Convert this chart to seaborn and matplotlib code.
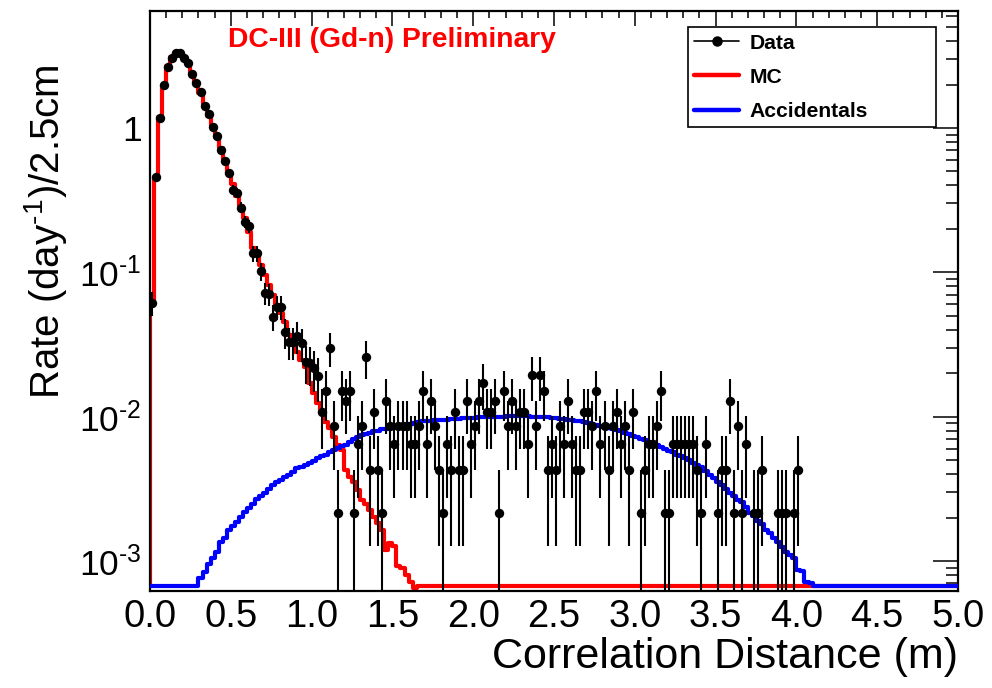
import numpy as np
import pandas as pd
import matplotlib
matplotlib.use("Agg")
import matplotlib.pyplot as plt
import seaborn as sns
from matplotlib.ticker import FixedLocator, MultipleLocator, NullFormatter, FormatStrFormatter
from matplotlib.lines import Line2D

# ---------------- data ----------------
n_bins = 200
x_lo, x_hi = 0.0, 5.0
rate_per_event = 0.00215          # day^-1 per selected event

# measured rate, bins 0..41 (high statistics region)
data_peak = [0.0613, 0.456, 1.173, 1.99, 2.65, 3.06, 3.31, 3.31, 3.06, 2.82,
             2.37, 2.05, 1.78, 1.42, 1.25, 1.02, 0.88, 0.705, 0.59, 0.488,
             0.372, 0.355, 0.281, 0.224, 0.21, 0.1355, 0.1355, 0.102, 0.0722, 0.0703,
             0.0492, 0.0578, 0.0578, 0.0384, 0.033, 0.033, 0.0361, 0.0322, 0.0239, 0.0234,
             0.0216, 0.0191]
# event counts, bins 42..160
data_tail_counts = [5, 7, 14, 4, 1, 7, 6, 7, 1, 3,
                    4, 12, 2, 5, 2, 1, 6, 4, 3, 4,
                    4, 4, 3, 3, 4, 7, 3, 6, 4, 2,
                    1, 3, 2, 5, 2, 2, 6, 3, 4, 6,
                    8, 5, 5, 6, 1, 7, 4, 6, 4, 5,
                    5, 3, 9, 4, 9, 7, 2, 3, 2, 4,
                    3, 6, 3, 2, 2, 5, 5, 4, 7, 3,
                    4, 2, 4, 5, 3, 4, 2, 5, 0, 1,
                    2, 3, 3, 4, 7, 1, 1, 3, 3, 3,
                    3, 3, 3, 2, 1, 3, 0, 0, 1, 2,
                    2, 6, 1, 4, 1, 3, 0, 1, 1, 2,
                    0, 0, 0, 1, 1, 1, 0, 1, 2]

# MC prediction, bins 0..65
mc_values = [0.06, 0.46, 1.2, 2.0, 2.7, 3.1, 3.3, 3.3, 3.1, 2.8,
             2.4, 2.05, 1.75, 1.45, 1.22, 1.03, 0.87, 0.73, 0.6, 0.49,
             0.41, 0.34, 0.29, 0.238, 0.19, 0.148, 0.132, 0.112, 0.096, 0.082,
             0.07, 0.059, 0.052, 0.045, 0.037, 0.0314, 0.028, 0.0247, 0.0221, 0.017,
             0.0146, 0.0124, 0.0106, 0.0092, 0.0083, 0.00726, 0.00637, 0.00588, 0.00428, 0.00384,
             0.00355, 0.0031, 0.00265, 0.0025, 0.00225, 0.00203, 0.00183, 0.00164, 0.00119, 0.00133,
             0.00126, 0.00092, 0.0009, 0.0008, 0.00072, 0.00065]

# accidental background (units of 1e-3 day^-1), bins 12..163
acc_first_bin = 12
accidentals_milli = [0.76, 0.84, 0.96, 1.05, 1.15, 1.36, 1.45, 1.65, 1.74, 1.85,
                     2.03, 2.2, 2.33, 2.5, 2.7, 2.8, 2.95, 3.15, 3.35, 3.5,
                     3.65, 3.8, 3.95, 4.15, 4.4, 4.5, 4.6, 4.75, 4.95, 5.15,
                     5.3, 5.45, 5.65, 5.85, 6.05, 6.25, 6.4, 6.65, 7.0, 7.25,
                     7.45, 7.6, 7.75, 7.9, 8.0, 8.15, 8.2, 8.35, 8.5, 8.6,
                     8.65, 8.8, 8.9, 9.05, 9.2, 9.3, 9.35, 9.4, 9.45, 9.5,
                     9.5, 9.55, 9.6, 9.65, 9.7, 9.75, 9.8, 9.85, 9.85, 9.9,
                     9.9, 9.95, 9.95, 10.0, 10.0, 10.0, 10.1, 10.1, 10.1, 10.1,
                     10.1, 10.1, 10.0, 10.0, 10.0, 9.95, 9.9, 9.85, 9.8, 9.7,
                     9.65, 9.55, 9.45, 9.4, 9.3, 9.2, 9.05, 8.95, 8.8, 8.65,
                     8.5, 8.4, 8.2, 8.05, 7.9, 7.75, 7.6, 7.4, 7.25, 7.05,
                     6.85, 6.65, 6.5, 6.35, 6.15, 6.0, 5.8, 5.65, 5.45, 5.3,
                     5.15, 5.0, 4.8, 4.6, 4.45, 4.2, 3.95, 3.75, 3.5, 3.35,
                     3.15, 2.95, 2.8, 2.65, 2.55, 2.35, 2.15, 2.05, 1.9, 1.8,
                     1.65, 1.55, 1.45, 1.35, 1.25, 1.15, 1.1, 1.05, 0.87, 0.85,
                     0.72, 0.70]

y_lo, y_hi = 6.22e-4, 6.47
x_ticks = [0.0, 0.5, 1.0, 1.5, 2.0, 2.5, 3.0, 3.5, 4.0, 4.5, 5.0]
y_ticks = [1e-3, 1e-2, 1e-1, 1.0]
y_tick_labels = [r"$10^{\text{-}3}$", r"$10^{\text{-}2}$", r"$10^{\text{-}1}$", "1"]

# ---------------- assemble ----------------
edges = np.linspace(x_lo, x_hi, n_bins + 1)
centers = 0.5 * (edges[:-1] + edges[1:])

data_rate = np.zeros(n_bins)
data_rate[:len(data_peak)] = data_peak
data_rate[len(data_peak):len(data_peak) + len(data_tail_counts)] = np.array(data_tail_counts) * rate_per_event
data_err = np.sqrt(data_rate * rate_per_event)

mc = np.zeros(n_bins)
mc[:len(mc_values)] = mc_values
acc = np.zeros(n_bins)
acc[acc_first_bin:acc_first_bin + len(accidentals_milli)] = np.array(accidentals_milli) * 1e-3

# empty bins are drawn on the lower frame, as ROOT does
floor = y_lo * 1.075
df = pd.DataFrame({"x": centers,
                   "mc": np.where(mc > 0, mc, floor),
                   "acc": np.where(acc > 0, acc, floor),
                   "data": data_rate, "err": data_err})

# ---------------- style ----------------
sns.set_style("white")
plt.rcParams["font.family"] = ["Liberation Sans", "DejaVu Sans"]
plt.rcParams["mathtext.fontset"] = "custom"
plt.rcParams["mathtext.rm"] = "Liberation Sans"
plt.rcParams["mathtext.it"] = "Liberation Sans:italic"
plt.rcParams["mathtext.bf"] = "Liberation Sans:bold"
plt.rcParams["text.color"] = "black"
plt.rcParams["axes.labelcolor"] = "black"
plt.rcParams["xtick.color"] = "black"
plt.rcParams["ytick.color"] = "black"

fig = plt.figure(figsize=(9.92, 6.88), dpi=100)
ax = fig.add_axes([150 / 992, 1 - 590.7 / 688, 808 / 992, 579.7 / 688])
ax.set_yscale("log")

bin_list = [float(e) for e in edges]
line_w = 3.0
sns.histplot(data=df, x="x", weights="mc", bins=bin_list, element="step", fill=False,
             color="#ff0000", linewidth=line_w, ax=ax, zorder=2)
ax.vlines(edges[0], floor, df["mc"].iloc[0], color="#ff0000", linewidth=line_w, zorder=2)
sns.histplot(data=df, x="x", weights="acc", bins=bin_list, element="step", fill=False,
             color="#0000ff", linewidth=line_w, ax=ax, zorder=3)

pts = df[df["data"] > 0]
lower = np.minimum(pts["err"].to_numpy(), pts["data"].to_numpy() - 1e-9)
ax.errorbar(pts["x"], pts["data"], yerr=[lower, pts["err"].to_numpy()], fmt="none",
            ecolor="black", elinewidth=1.5, capsize=0, zorder=4)
sns.scatterplot(data=pts, x="x", y="data", color="black", s=46, linewidth=0,
                ax=ax, zorder=5, legend=False)

ax.set_xlim(x_lo, x_hi)
ax.set_ylim(y_lo, y_hi)

ax.xaxis.set_major_locator(FixedLocator(x_ticks))
ax.xaxis.set_minor_locator(MultipleLocator(0.1))
ax.xaxis.set_major_formatter(FormatStrFormatter("%.1f"))
ax.yaxis.set_major_locator(FixedLocator(y_ticks))
ax.set_yticklabels(y_tick_labels)
minor_y = [m * 10.0 ** e for e in range(-4, 1) for m in range(2, 10)]
ax.yaxis.set_minor_locator(FixedLocator(minor_y))
ax.yaxis.set_minor_formatter(NullFormatter())

ax.tick_params(axis="both", which="both", direction="in", top=True, right=True,
               width=1.1, colors="black", labelcolor="black")
ax.tick_params(axis="x", which="major", length=10.5, pad=6, labelsize=27.5)
ax.tick_params(axis="x", which="minor", length=5)
ax.tick_params(axis="y", which="major", length=18, pad=6, labelsize=25.5)
ax.tick_params(axis="y", which="minor", length=9)

for sp in ax.spines.values():
    sp.set_color("black")
    sp.set_linewidth(1.6)

ax.set_xlabel("Correlation Distance (m)", fontsize=31, ha="right", color="black")
ax.xaxis.set_label_coords(1.0, -0.08)
ax.xaxis.label.set_va("top")
ax.set_ylabel(r"Rate (day$^{\text{-}1}$)/2.5cm", fontsize=29, ha="right", color="black")
ax.yaxis.set_label_coords(-0.10, 0.907)

ax.text(0.0965, 0.972, "DC-III (Gd-n) Preliminary", transform=ax.transAxes,
        color="#ff0000", fontsize=20.3, fontweight="bold", ha="left", va="top")

handles = [Line2D([0], [0], color="black", lw=1.2, marker="o", markersize=6.5),
           Line2D([0], [0], color="#ff0000", lw=3.2),
           Line2D([0], [0], color="#0000ff", lw=3.2)]
leg = ax.legend(handles, ["Data", "MC", "Accidentals"], loc="upper left",
                bbox_to_anchor=(0.666, 0.972, 0.307, 0.0), mode="expand",
                frameon=True, fancybox=False, edgecolor="black", framealpha=1,
                prop={"weight": "bold", "size": 15.2}, handlelength=2.1,
                labelspacing=0.72, borderpad=0.3, handletextpad=0.5, borderaxespad=0)
leg.get_frame().set_linewidth(1.2)
for t in leg.get_texts():
    t.set_color("black")

fig.savefig("out.png", dpi=100)
